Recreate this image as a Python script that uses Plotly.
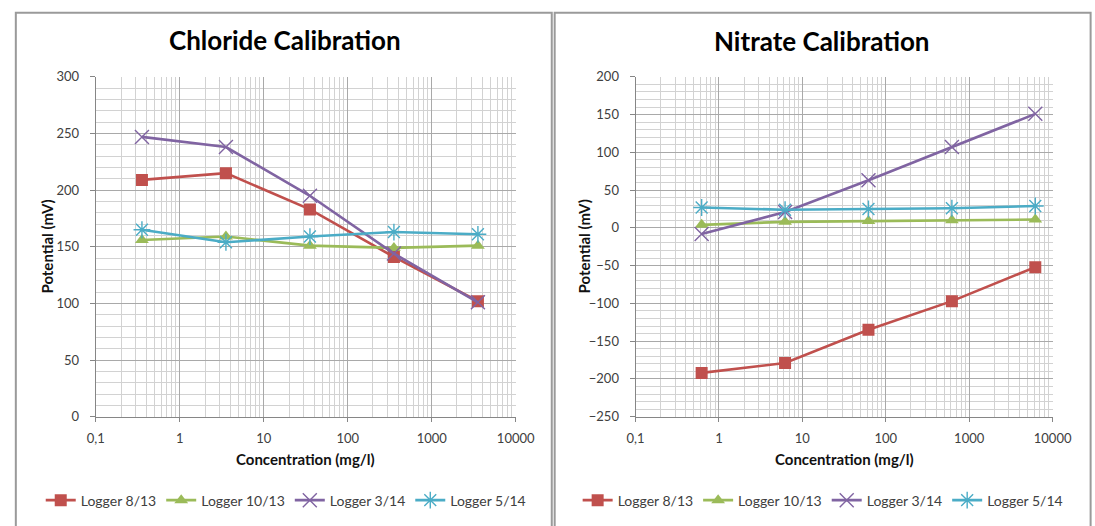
import plotly.graph_objects as go

# ---------------- data ----------------
series_names = ["Logger 8/13", "Logger 10/13", "Logger 3/14", "Logger 5/14"]
series_colors = ["#C0504D", "#9BBB59", "#8064A2", "#4BACC6"]
series_symbols = ["square", "triangle-up", "x-thin-open", "asterisk-open"]

cl_conc = [0.355, 3.55, 35.5, 355, 3550]
cl_8_13 = [209, 215, 183, 141, 102]
cl_10_13 = [156, 159, 151, 149, 151]
cl_3_14 = [247, 238, 195, 144, 101]
cl_5_14 = [165, 154, 159, 163, 161]

no3_conc = [0.62, 6.2, 62, 620, 6200]
no3_8_13 = [-192, -179, -135, -97, -52]
no3_10_13 = [4, 8, 9, 10, 11]
no3_3_14 = [-8, 21, 63, 107, 151]
no3_5_14 = [27, 24, 25, 26, 29]

x_tickvals = [0.1, 1, 10, 100, 1000, 10000]
x_ticktext = ["0,1", "1", "10", "100", "1000", "10000"]

W, H = 1095, 526
FONT = "Lato"
TXT = "#404040"


def px(x):
    return x / W


def py(y):
    return 1 - y / H


fig = go.Figure()

cl_series = [cl_8_13, cl_10_13, cl_3_14, cl_5_14]
no3_series = [no3_8_13, no3_10_13, no3_3_14, no3_5_14]


def add_series(xs, ys_list, xa, ya, legend):
    for name, ys, col, sym in zip(series_names, ys_list, series_colors, series_symbols):
        open_sym = sym.endswith("open")
        fig.add_trace(go.Scatter(
            x=xs, y=ys, name=name, mode="lines+markers",
            xaxis=xa, yaxis=ya, legend=legend,
            line=dict(color=col, width=2.6),
            marker=dict(symbol=sym, size=14 if open_sym else 12, color=col,
                        line=dict(color=col, width=1.4 if open_sym else 0)),
        ))


add_series(cl_conc, cl_series, "x", "y", "legend")
add_series(no3_conc, no3_series, "x2", "y2", "legend2")

minor_x = [m * d for d in [0.1, 1, 10, 100, 1000] for m in range(2, 10)]

xaxis_common = dict(
    type="log", range=[-1, 4], tickmode="array", tickvals=x_tickvals, ticktext=x_ticktext,
    showgrid=True, gridcolor="#A9A9A9", gridwidth=1,
    minor=dict(tickmode="array", tickvals=minor_x, showgrid=True, gridcolor="#D2D2D2",
               gridwidth=1, ticks=""),
    showline=True, linecolor="#868686", linewidth=1,
    ticks="outside", ticklen=4, tickcolor="#868686",
    tickfont=dict(family=FONT, size=13, color=TXT),
    ticklabelstandoff=6, zeroline=False, fixedrange=True,
)
yaxis_common = dict(
    showgrid=True, gridcolor="#A9A9A9", gridwidth=1,
    minor=dict(dtick=10, showgrid=True, gridcolor="#D2D2D2", gridwidth=1, ticks=""),
    showline=True, linecolor="#868686", linewidth=1,
    ticks="outside", ticklen=5, tickcolor="#868686",
    tickfont=dict(family=FONT, size=13, color=TXT),
    ticklabelstandoff=8, zeroline=False, fixedrange=True,
)

y_bot, y_top = py(421.5), py(71)

legend_common = dict(orientation="h", xanchor="center", y=py(508), yanchor="middle",
                     font=dict(family=FONT, size=14, color=TXT), itemwidth=30,
                     bgcolor="rgba(0,0,0,0)", tracegroupgap=0)

fig.update_layout(
    width=W, height=H, autosize=False,
    margin=dict(l=0, r=0, t=0, b=0),
    paper_bgcolor="white", plot_bgcolor="white",
    font=dict(family=FONT, color=TXT),
    xaxis=dict(domain=[px(89), px(520)], anchor="y", **xaxis_common),
    yaxis=dict(domain=[y_bot, y_top], anchor="x", range=[0, 300], dtick=50, **yaxis_common),
    xaxis2=dict(domain=[px(643), px(1071)], anchor="y2", **xaxis_common),
    yaxis2=dict(domain=[y_bot, y_top], anchor="x2", range=[-250, 200], dtick=50, **yaxis_common),
    legend=dict(x=px(284), **legend_common),
    legend2=dict(x=px(835), **legend_common),
    showlegend=True,
)

# panel frames (right/bottom edges run off the picture)
for x0, x1 in [(7, 557), (560, 1110)]:
    fig.add_shape(type="rect", xref="paper", yref="paper",
                  x0=px(x0), x1=px(x1), y0=py(540), y1=py(5),
                  line=dict(color="#9A9A9A", width=2), fillcolor="rgba(0,0,0,0)", layer="below")

annots = [
    ("Chloride Calibration", 283, 33, 26, 0, "#000000"),
    ("Nitrate Calibration", 834, 34, 26, 0, "#000000"),
    ("Concentration (mg/l)", 304, 465, 15, 0, "#111111"),
    ("Concentration (mg/l)", 857, 465, 15, 0, "#111111"),
    ("Potential (mV)", 38, 246, 15, -90, "#111111"),
    ("Potential (mV)", 590, 246, 15, -90, "#111111"),
]
for text, x, y, size, ang, col in annots:
    fig.add_annotation(text=f"<b>{text}</b>", xref="paper", yref="paper",
                       x=px(x), y=py(y), xanchor="center", yanchor="middle",
                       showarrow=False, textangle=ang,
                       font=dict(family=FONT, size=size, color=col))

fig.write_html("out.html", config={"displayModeBar": False},
               post_script="document.body.style.margin='0px';")
